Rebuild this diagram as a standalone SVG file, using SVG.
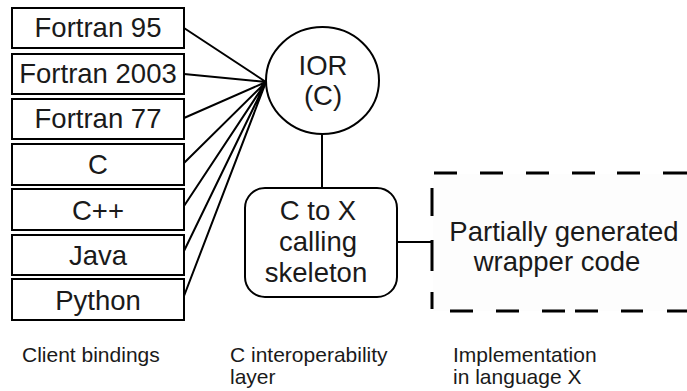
<svg xmlns="http://www.w3.org/2000/svg" width="687" height="391" viewBox="0 0 687 391">
  <style>
    .box { fill: #ffffff; stroke: #000000; stroke-width: 2; }
    .big { font-family: "Liberation Sans", Arial, sans-serif; font-size: 27.5px; fill: #1a1a1a; text-anchor: middle; }
    .cap { font-family: "Liberation Sans", Arial, sans-serif; font-size: 21px; fill: #1a1a1a; }
    .wire { fill: none; stroke: #000000; stroke-width: 2; }
    .dash { fill: none; stroke: #000000; stroke-width: 3; }
  </style>
  <rect width="687" height="391" fill="#ffffff"/>

  <!-- connectors -->
  <g id="connectors">
    <path class="wire" d="M184,28 L266,82 M184,74 L266,82 M184,118 L266,82 M184,163 L266,82 M184,206 L266,82 M184,251 L266,82 M184,296 L266,82"/>
    <path class="wire" d="M322,134 L322,188"/>
    <path class="wire" d="M397,242 L432,242"/>
  </g>

  <!-- client bindings -->
  <g id="fortran95">
    <rect class="box" x="12" y="8" width="172" height="40"/>
    <text class="big" x="98" y="37">Fortran 95</text>
  </g>
  <g id="fortran2003">
    <rect class="box" x="12" y="54" width="172" height="40"/>
    <text class="big" x="98" y="83">Fortran 2003</text>
  </g>
  <g id="fortran77">
    <rect class="box" x="12" y="99" width="172" height="40"/>
    <text class="big" x="98" y="128">Fortran 77</text>
  </g>
  <g id="c">
    <rect class="box" x="12" y="144" width="172" height="41"/>
    <text class="big" x="98" y="174">C</text>
  </g>
  <g id="cpp">
    <rect class="box" x="12" y="189" width="172" height="41"/>
    <text class="big" x="98" y="220">C++</text>
  </g>
  <g id="java">
    <rect class="box" x="12" y="235" width="172" height="40"/>
    <text class="big" x="98" y="265">Java</text>
  </g>
  <g id="python">
    <rect class="box" x="12" y="279" width="172" height="41"/>
    <text class="big" x="98" y="310">Python</text>
  </g>

  <!-- IOR -->
  <g id="ior">
    <ellipse class="box" cx="322.5" cy="80.5" rx="56.5" ry="53.5"/>
    <text class="big" x="323" y="75">IOR</text>
    <text class="big" x="323" y="105">(C)</text>
  </g>

  <!-- skeleton -->
  <g id="skeleton">
    <rect class="box" x="245" y="188" width="152" height="109" rx="20" ry="20"/>
    <text class="big" x="318" y="220">C to X</text>
    <text class="big" x="318" y="251">calling</text>
    <text class="big" x="316" y="282">skeleton</text>
  </g>

  <!-- implementation -->
  <g id="wrapper">
    <rect x="433" y="174" width="254" height="137" fill="#fdfdfd"/>
    <path class="dash" d="M434,173 H457 M480,173 H503 M526,173 H549 M572,173 H595 M617,173 H640 M663,173 H687
                          M432,188 V216 M432,240 V271 M432,292 V309
                          M450,311 H473 M496,311 H519 M542,311 H565 M575,311 H598 M621,311 H643 M667,311 H687"/>
    <text class="big" x="564" y="241">Partially generated</text>
    <text class="big" x="557" y="271">wrapper code</text>
  </g>

  <!-- layer captions -->
  <g id="captions">
    <text class="cap" x="22" y="362">Client bindings</text>
    <text class="cap" x="230" y="362">C interoperability</text>
    <text class="cap" x="230" y="384">layer</text>
    <text class="cap" x="453" y="362">Implementation</text>
    <text class="cap" x="453" y="384">in language X</text>
  </g>
</svg>
